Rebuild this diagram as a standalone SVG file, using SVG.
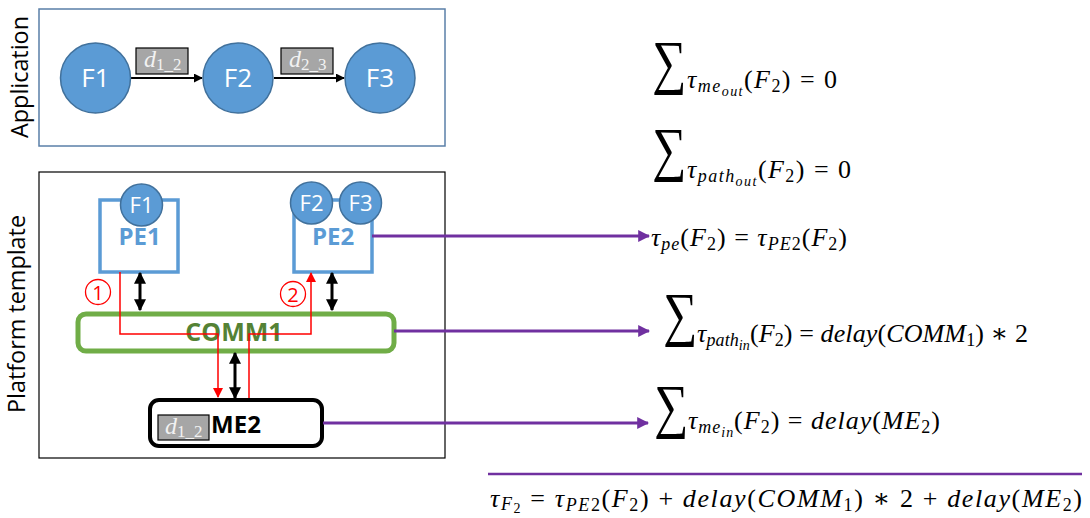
<svg xmlns="http://www.w3.org/2000/svg" width="1090" height="518" viewBox="0 0 1090 518">
<defs>
<style>
.lbl{font-family:"Open Sans","Liberation Sans",sans-serif;fill:#000}
.ftxt{font-family:"Open Sans","Liberation Sans",sans-serif;fill:#fff;text-anchor:middle}
.fc{fill:#5B9BD5;stroke:#41719C;stroke-width:1.5}
.pe{fill:#fff;stroke:#5B9BD5;stroke-width:3.5}
.pet{font-family:"Open Sans","Liberation Sans",sans-serif;font-weight:bold;fill:#5B9BD5;text-anchor:middle;font-size:24px}
.dbox{fill:#A6A6A6;stroke:#000;stroke-width:1.2}
.dt{font-family:"Liberation Serif","DejaVu Serif",serif;font-style:italic;fill:#F2F2F2;font-size:24px}
.ds{font-size:17px;font-style:normal}
.m{font-family:"Liberation Serif","DejaVu Serif",serif;font-size:26px;fill:#000}
.i{font-style:italic}
.s1{font-size:18px}
.s2{font-size:14px}
.sig{font-family:"Liberation Serif","DejaVu Serif",serif;font-size:60px;fill:#000}
.blk{stroke:#000;stroke-width:2;fill:none}
.dbl{stroke:#000;stroke-width:3;fill:none}
.red{stroke:#FF0000;stroke-width:1.5;fill:none}
.pur{stroke:#7030A0;stroke-width:3;fill:none}
</style>
<marker id="ah" viewBox="0 0 10 10" refX="9" refY="5" markerWidth="9" markerHeight="9" markerUnits="userSpaceOnUse" orient="auto"><path d="M0,0 L10,5 L0,10 z" fill="#000"/></marker>
<marker id="ahd" viewBox="0 0 10 10" refX="9" refY="5" markerWidth="12" markerHeight="12" markerUnits="userSpaceOnUse" orient="auto-start-reverse"><path d="M0,0 L10,5 L0,10 z" fill="#000"/></marker>
<marker id="ahr" viewBox="0 0 10 10" refX="9" refY="5" markerWidth="10" markerHeight="10" markerUnits="userSpaceOnUse" orient="auto"><path d="M0,0 L10,5 L0,10 z" fill="#FF0000"/></marker>
<marker id="ahp" viewBox="0 0 10 10" refX="9" refY="5" markerWidth="12" markerHeight="12" markerUnits="userSpaceOnUse" orient="auto"><path d="M0,0 L10,5 L0,10 z" fill="#7030A0"/></marker>
</defs>
<rect width="1090" height="518" fill="#fff"/>

<g id="application">
<rect x="39" y="9" width="406" height="137" fill="#fff" stroke="#5A7FA8" stroke-width="1.5"/>
<text class="lbl" transform="translate(28,77) rotate(-90)" text-anchor="middle" font-size="23" textLength="122" lengthAdjust="spacingAndGlyphs">Application</text>
</g>

<g id="connectors-app">
<line class="blk" x1="131" y1="78" x2="202" y2="78" marker-end="url(#ah)"/>
<line class="blk" x1="274" y1="78" x2="344" y2="78" marker-end="url(#ah)"/>
</g>

<g id="d12-app">
<rect class="dbox" x="136" y="48" width="52" height="26"/>
<text class="dt" x="144" y="67">d<tspan class="ds" dy="3">1_2</tspan></text>
</g>
<g id="d23-app">
<rect class="dbox" x="281" y="48" width="52" height="26"/>
<text class="dt" x="289" y="67">d<tspan class="ds" dy="3">2_3</tspan></text>
</g>

<g id="F1"><circle class="fc" cx="95.5" cy="78" r="35"/><text class="ftxt" x="95.5" y="87" font-size="26">F1</text></g>
<g id="F2"><circle class="fc" cx="238" cy="78" r="35"/><text class="ftxt" x="238" y="87" font-size="26">F2</text></g>
<g id="F3"><circle class="fc" cx="380" cy="78" r="35"/><text class="ftxt" x="380" y="87" font-size="26">F3</text></g>

<g id="platform">
<rect x="39" y="172" width="406" height="286" fill="#fff" stroke="#000" stroke-width="1.2"/>
<text class="lbl" transform="translate(25,314) rotate(-90)" text-anchor="middle" font-size="23" textLength="198" lengthAdjust="spacingAndGlyphs">Platform template</text>
</g>

<g id="PE1">
<rect class="pe" x="100" y="200" width="78" height="72"/>
<circle class="fc" cx="141.5" cy="205" r="21"/>
<text class="ftxt" x="141.5" y="213" font-size="22">F1</text>
<text class="pet" x="139.5" y="245">PE1</text>
</g>

<g id="PE2">
<rect class="pe" x="294" y="200" width="78" height="72"/>
<circle class="fc" cx="311.5" cy="203" r="21"/>
<text class="ftxt" x="311.5" y="211" font-size="22">F2</text>
<circle class="fc" cx="360.5" cy="203" r="21"/>
<text class="ftxt" x="360.5" y="211" font-size="22">F3</text>
<text class="pet" x="333" y="245">PE2</text>
</g>

<g id="COMM1">
<rect x="78" y="314" width="316" height="37" rx="8" fill="#fff" stroke="#70AD47" stroke-width="5"/>
<text x="234" y="341" text-anchor="middle" font-family="Open Sans, Liberation Sans, sans-serif" font-weight="bold" font-size="25" fill="#548235">COMM1</text>
</g>

<g id="ME2">
<rect x="150" y="400" width="172" height="46" rx="9" fill="#fff" stroke="#000" stroke-width="4"/>
<rect class="dbox" x="158" y="415" width="51" height="25"/>
<text class="dt" x="165" y="434" font-size="22">d<tspan class="ds" dy="3" font-size="16">1_2</tspan></text>
<text x="236" y="433" text-anchor="middle" font-family="Open Sans, Liberation Sans, sans-serif" font-weight="bold" font-size="24" fill="#000">ME2</text>
</g>

<g id="connectors">
<line class="dbl" x1="140" y1="273" x2="140" y2="310" marker-start="url(#ahd)" marker-end="url(#ahd)"/>
<line class="dbl" x1="332" y1="273" x2="332" y2="310" marker-start="url(#ahd)" marker-end="url(#ahd)"/>
<line class="dbl" x1="235" y1="353" x2="235" y2="398" marker-start="url(#ahd)" marker-end="url(#ahd)"/>
<polyline class="red" points="120,272 120,334 218,334 218,397" marker-end="url(#ahr)"/>
<polyline class="red" points="249,398 249,334 311,334 311,273" marker-end="url(#ahr)"/>
<line class="pur" x1="372" y1="236" x2="649" y2="236" marker-end="url(#ahp)"/>
<line class="pur" x1="394" y1="331" x2="649" y2="331" marker-end="url(#ahp)"/>
<line class="pur" x1="323" y1="423" x2="648" y2="423" marker-end="url(#ahp)"/>
<line x1="488" y1="474" x2="1082" y2="474" stroke="#7030A0" stroke-width="2.5"/>
</g>

<g id="markers-num">
<circle cx="98" cy="292" r="12.5" fill="none" stroke="#FF0000" stroke-width="1.3"/>
<text x="98" y="299.5" text-anchor="middle" font-family="Open Sans, Liberation Sans, sans-serif" font-size="20" fill="#FF0000">1</text>
<circle cx="293" cy="294" r="12.5" fill="none" stroke="#FF0000" stroke-width="1.3"/>
<text x="293" y="301.5" text-anchor="middle" font-family="Open Sans, Liberation Sans, sans-serif" font-size="20" fill="#FF0000">2</text>
</g>

<g id="eq1">
<text class="sig" transform="translate(652,82) scale(0.8,1)">∑</text>
<text class="m" x="687" y="88" textLength="150" lengthAdjust="spacing"><tspan class="i">τ</tspan><tspan class="i s1" dy="4">me</tspan><tspan class="i s2" dy="4">out</tspan><tspan dy="-8">(</tspan><tspan class="i">F</tspan><tspan class="s1" dy="4">2</tspan><tspan dy="-4">) = 0</tspan></text>
</g>
<g id="eq2">
<text class="sig" transform="translate(652,169) scale(0.8,1)">∑</text>
<text class="m" x="687" y="178" textLength="164" lengthAdjust="spacing"><tspan class="i">τ</tspan><tspan class="i s1" dy="4">path</tspan><tspan class="i s2" dy="4">out</tspan><tspan dy="-8">(</tspan><tspan class="i">F</tspan><tspan class="s1" dy="4">2</tspan><tspan dy="-4">) = 0</tspan></text>
</g>
<g id="eq3">
<text class="m" x="651" y="246" textLength="196" lengthAdjust="spacing"><tspan class="i">τ</tspan><tspan class="i s1" dy="4">pe</tspan><tspan dy="-4">(</tspan><tspan class="i">F</tspan><tspan class="s1" dy="4">2</tspan><tspan dy="-4">) = </tspan><tspan class="i">τ</tspan><tspan class="i s1" dy="4">PE</tspan><tspan class="s1">2</tspan><tspan dy="-4">(</tspan><tspan class="i">F</tspan><tspan class="s1" dy="4">2</tspan><tspan dy="-4">)</tspan></text>
</g>
<g id="eq4">
<text class="sig" transform="translate(663,334) scale(0.8,1)">∑</text>
<text class="m" x="697" y="342" textLength="331" lengthAdjust="spacing"><tspan class="i">τ</tspan><tspan class="i s1" dy="4">path</tspan><tspan class="i s2" dy="4">in</tspan><tspan dy="-8">(</tspan><tspan class="i">F</tspan><tspan class="s1" dy="4">2</tspan><tspan dy="-4">) = </tspan><tspan class="i">delay</tspan><tspan>(</tspan><tspan class="i">COMM</tspan><tspan class="s1" dy="4">1</tspan><tspan dy="-4">) ∗ 2</tspan></text>
</g>
<g id="eq5">
<text class="sig" transform="translate(654,426) scale(0.8,1)">∑</text>
<text class="m" x="688" y="429" textLength="252" lengthAdjust="spacing"><tspan class="i">τ</tspan><tspan class="i s1" dy="4">me</tspan><tspan class="i s2" dy="4">in</tspan><tspan dy="-8">(</tspan><tspan class="i">F</tspan><tspan class="s1" dy="4">2</tspan><tspan dy="-4">) = </tspan><tspan class="i">delay</tspan><tspan>(</tspan><tspan class="i">ME</tspan><tspan class="s1" dy="4">2</tspan><tspan dy="-4">)</tspan></text>
</g>
<g id="eq6">
<text class="m" x="490" y="507" textLength="592" lengthAdjust="spacing"><tspan class="i">τ</tspan><tspan class="i s1" dy="3">F</tspan><tspan class="s2" dy="3">2</tspan><tspan dy="-6"> = </tspan><tspan class="i">τ</tspan><tspan class="i s1" dy="4">PE</tspan><tspan class="s1">2</tspan><tspan dy="-4">(</tspan><tspan class="i">F</tspan><tspan class="s1" dy="4">2</tspan><tspan dy="-4">) + </tspan><tspan class="i">delay</tspan><tspan>(</tspan><tspan class="i">COMM</tspan><tspan class="s1" dy="4">1</tspan><tspan dy="-4">) ∗ 2 + </tspan><tspan class="i">delay</tspan><tspan>(</tspan><tspan class="i">ME</tspan><tspan class="s1" dy="4">2</tspan><tspan dy="-4">)</tspan></text>
</g>
</svg>
